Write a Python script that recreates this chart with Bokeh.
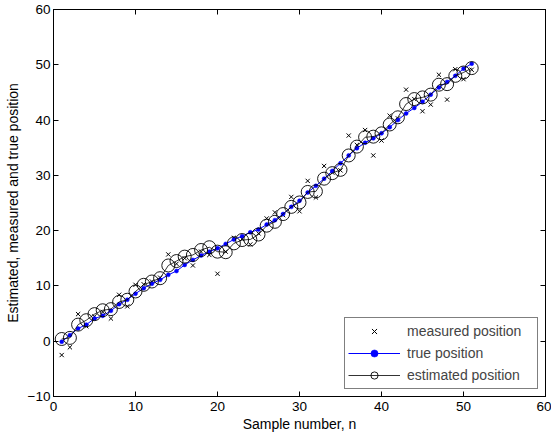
from bokeh.plotting import figure
from bokeh.models import LinearAxis, Range1d, FixedTicker, Legend, LegendItem
from bokeh.embed import file_html
from bokeh.resources import INLINE

# ---- data ----
n = list(range(1, 52))

measured = [-2.5, -1.1, 4.9, 2.7, 4.5, 5.3, 4.1, 8.4, 6.3, 10.2,
            10.3, 10.8, 11.5, 15.7, 14.0, 15.0, 13.7, 16.2, 15.6, 12.2,
            16.2, 18.7, 18.5, 17.5, 19.5, 22.2, 23.3, 22.8, 26.1, 23.5,
            29.0, 26.0, 31.7, 30.5, 30.9, 37.2, 35.5, 38.2, 33.6, 36.3,
            40.8, 40.3, 45.5, 43.8, 41.6, 42.8, 48.2, 43.7, 49.2, 47.4,
            49.1]

true_pos = [-0.1, 1.1, 2.3, 3.0, 4.1, 4.6, 5.5, 6.7, 7.5, 8.6,
            9.6, 10.4, 11.1, 12.0, 12.7, 13.8, 14.7, 15.5, 16.2, 16.8,
            17.6, 18.4, 19.0, 19.7, 20.2, 21.1, 21.9, 23.0, 24.3, 25.4,
            26.9, 28.1, 29.4, 30.8, 32.2, 33.6, 34.9, 35.9, 36.7, 37.6,
            38.7, 40.0, 41.2, 42.2, 43.3, 44.6, 45.9, 46.9, 48.0, 49.3,
            50.2]

estimated = [0.4, 0.6, 3.0, 3.8, 4.9, 5.6, 5.8, 7.1, 7.5, 9.0,
             10.2, 10.8, 11.4, 13.7, 14.5, 15.3, 15.6, 16.5, 17.0, 16.2,
             16.1, 17.7, 18.3, 18.4, 19.3, 20.9, 21.6, 23.0, 24.3, 25.1,
             27.0, 27.1, 29.4, 30.4, 31.0, 33.6, 35.2, 36.9, 37.0, 37.6,
             39.2, 40.5, 42.9, 43.8, 44.1, 44.6, 46.4, 46.5, 48.0, 48.6,
             49.4]

x_ticks = [0, 10, 20, 30, 40, 50, 60]
y_ticks = [-10, 0, 10, 20, 30, 40, 50, 60]

FONT = "Liberation Sans"
TICK_FS = "13.5px"
LABEL_FS = "14px"

p = figure(width=551, height=439, output_backend="svg", toolbar_location=None,
           x_range=Range1d(0, 60), y_range=Range1d(-10, 60),
           min_border_left=53, min_border_bottom=43, min_border_top=9, min_border_right=6)

p.xgrid.visible = False
p.ygrid.visible = False
p.outline_line_color = "black"
p.outline_line_width = 1
p.background_fill_color = "white"
p.border_fill_color = "white"

def style_axis(ax, ticks, show_labels=True):
    ax.ticker = FixedTicker(ticks=ticks)
    ax.major_tick_in = 5
    ax.major_tick_out = 0
    ax.minor_tick_line_color = None
    ax.axis_line_color = "black"
    ax.major_tick_line_color = "black"
    ax.major_label_text_font = FONT
    if show_labels:
        ax.major_label_text_font_size = TICK_FS
        ax.major_label_text_color = "black"
    else:
        ax.major_label_text_font_size = "1px"
        ax.major_label_text_color = None
        ax.major_label_standoff = 0

style_axis(p.xaxis[0], x_ticks)
style_axis(p.yaxis[0], y_ticks)
p.xaxis.major_label_standoff = 5
p.yaxis.major_label_standoff = 3
p.xaxis.axis_label = "Sample number, n"
p.yaxis.axis_label = "Estimated, measured and true position"
for ax in (p.xaxis[0], p.yaxis[0]):
    ax.axis_label_text_font = FONT
    ax.axis_label_text_font_size = LABEL_FS
    ax.axis_label_text_font_style = "normal"
    ax.axis_label_text_color = "black"
p.xaxis.axis_label_standoff = 2
p.yaxis.axis_label_standoff = 4

top_ax = LinearAxis()
right_ax = LinearAxis()
style_axis(top_ax, x_ticks, show_labels=False)
style_axis(right_ax, y_ticks, show_labels=False)
p.add_layout(top_ax, "above")
p.add_layout(right_ax, "right")

# ---- glyphs ----
r_meas = p.scatter(n, measured, marker="x", size=6, line_color="black", line_width=1)
r_true_l = p.line(n, true_pos, line_color="blue", line_width=1)
r_true_m = p.scatter(n, true_pos, marker="circle", size=4, fill_color="blue",
                     line_color="blue", line_width=0.5)
r_est_l = p.line(n, estimated, line_color="black", line_width=0.8)
r_est_m = p.scatter(n, estimated, marker="circle", size=13, fill_color=None,
                    line_color="black", line_width=0.9)

legend = Legend(items=[
    LegendItem(label="measured position", renderers=[r_meas]),
    LegendItem(label="true position", renderers=[r_true_l, r_true_m]),
    LegendItem(label="estimated position", renderers=[r_est_l, r_est_m]),
], location="bottom_right")
legend.label_text_font = FONT
legend.label_text_font_size = LABEL_FS
legend.glyph_width = 52
legend.glyph_height = 18
legend.label_height = 20
legend.label_width = 127
legend.label_standoff = 7
legend.padding = 3
legend.spacing = 2
legend.margin = 7
legend.border_line_color = "black"
legend.border_line_width = 1
legend.background_fill_color = "white"
legend.background_fill_alpha = 1
p.add_layout(legend)

open("out.html", "w").write(file_html(p, INLINE))
